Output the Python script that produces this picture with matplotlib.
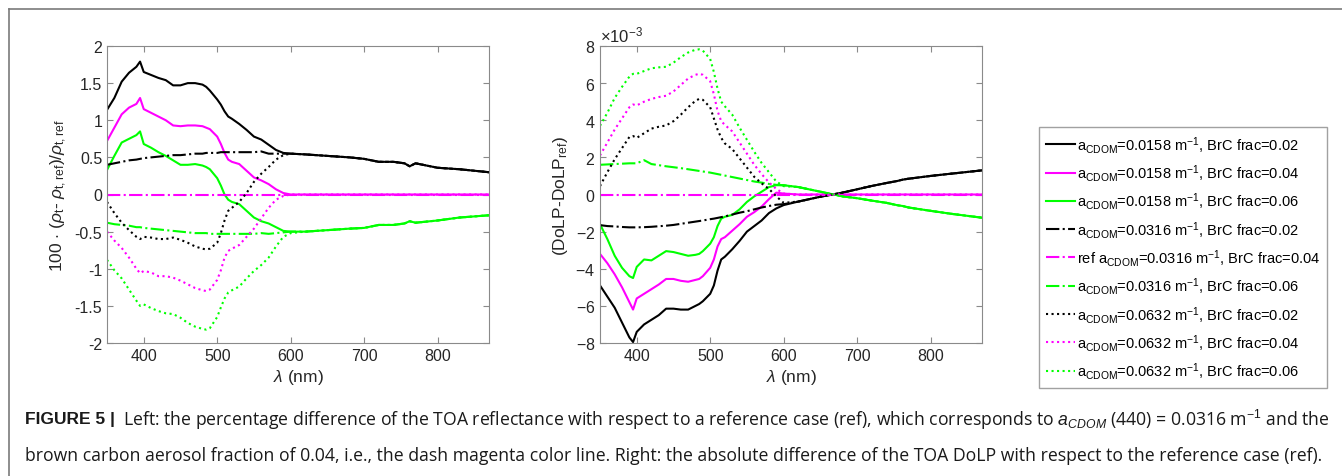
import matplotlib
matplotlib.use('Agg')
import matplotlib.pyplot as plt
import numpy as np
from matplotlib.lines import Line2D
from matplotlib.ticker import ScalarFormatter

plt.rcParams['font.family'] = ['Liberation Sans', 'DejaVu Sans']
plt.rcParams['mathtext.fontset'] = 'custom'
plt.rcParams['mathtext.rm'] = 'Liberation Sans'
plt.rcParams['mathtext.it'] = 'Liberation Sans:italic'
plt.rcParams['axes.unicode_minus'] = False

# wavelengths (nm): blue/green part where the curves differ, red part where they merge
wl_short = [350, 360, 370, 380, 390, 395, 400, 410, 420, 430, 440, 450, 460, 470, 480,
            485, 490, 500, 505, 510, 515, 520, 530, 540, 550, 560, 570, 580, 590, 600]
wl_long = [620, 650, 680, 700, 720, 740, 755, 762, 770, 800, 830, 870]

# ---- left panel: 100*(rho_t - rho_t,ref)/rho_t,ref ----
refl_k_solid = [1.14, 1.30, 1.52, 1.64, 1.72, 1.79, 1.65, 1.61, 1.57, 1.54, 1.47, 1.47, 1.50, 1.50, 1.48,
                1.45, 1.40, 1.28, 1.21, 1.12, 1.05, 1.02, 0.95, 0.87, 0.78, 0.74, 0.67, 0.60, 0.56, 0.55]
refl_m_solid = [0.72, 0.90, 1.08, 1.17, 1.22, 1.30, 1.15, 1.10, 1.05, 1.00, 0.93, 0.92, 0.93, 0.93, 0.92,
                0.90, 0.88, 0.78, 0.68, 0.56, 0.47, 0.44, 0.41, 0.32, 0.23, 0.19, 0.14, 0.07, 0.02, 0.0]
refl_g_solid = [0.33, 0.52, 0.70, 0.75, 0.80, 0.85, 0.68, 0.63, 0.57, 0.52, 0.46, 0.40, 0.40, 0.41, 0.39,
                0.37, 0.34, 0.22, 0.12, 0.0, -0.07, -0.10, -0.13, -0.22, -0.31, -0.36, -0.39, -0.44, -0.49, -0.50]
refl_k_dashdot = [0.40, 0.42, 0.44, 0.46, 0.47, 0.48, 0.49, 0.50, 0.51, 0.52, 0.53, 0.53, 0.54, 0.55, 0.55,
                  0.56, 0.56, 0.56, 0.57, 0.57, 0.57, 0.57, 0.57, 0.57, 0.57, 0.58, 0.55, 0.55, 0.55, 0.55]
refl_m_dashdot = [0.0] * 30
refl_g_dashdot = [-0.38, -0.40, -0.41, -0.42, -0.44, -0.44, -0.45, -0.46, -0.47, -0.48, -0.49, -0.50, -0.51, -0.52, -0.52,
                  -0.52, -0.53, -0.53, -0.53, -0.53, -0.53, -0.53, -0.53, -0.53, -0.53, -0.52, -0.53, -0.52, -0.51, -0.50]
refl_k_dot = [-0.10, -0.25, -0.38, -0.48, -0.57, -0.60, -0.57, -0.58, -0.60, -0.60, -0.58, -0.61, -0.65, -0.70, -0.73,
              -0.74, -0.73, -0.65, -0.52, -0.35, -0.22, -0.18, -0.10, 0.02, 0.17, 0.28, 0.37, 0.47, 0.53, 0.55]
refl_m_dot = [-0.50, -0.62, -0.72, -0.85, -1.00, -1.06, -1.03, -1.05, -1.10, -1.10, -1.12, -1.16, -1.21, -1.26, -1.29,
              -1.30, -1.28, -1.15, -1.02, -0.85, -0.76, -0.73, -0.68, -0.57, -0.46, -0.32, -0.18, -0.07, -0.02, 0.0]
refl_g_dot = [-0.88, -1.02, -1.13, -1.28, -1.43, -1.50, -1.48, -1.53, -1.57, -1.60, -1.61, -1.66, -1.73, -1.78, -1.81,
              -1.82, -1.80, -1.65, -1.52, -1.40, -1.32, -1.29, -1.24, -1.13, -1.03, -0.95, -0.85, -0.70, -0.57, -0.52]
refl_k_tail = [0.54, 0.52, 0.50, 0.48, 0.44, 0.44, 0.42, 0.38, 0.42, 0.36, 0.34, 0.30]
refl_m_tail = [0.0] * 12
refl_g_tail = [-0.50, -0.48, -0.46, -0.45, -0.41, -0.41, -0.39, -0.36, -0.38, -0.35, -0.31, -0.28]

# ---- right panel: DoLP - DoLP_ref (units of 1e-3) ----
dolp_k_solid = [-4.9, -5.5, -6.1, -6.9, -7.7, -7.95, -7.4, -7.0, -6.75, -6.5, -6.15, -6.15, -6.2, -6.2, -6.0,
                -5.9, -5.75, -5.35, -4.9, -4.1, -3.5, -3.35, -2.95, -2.5, -2.0, -1.7, -1.4, -1.0, -0.75, -0.57]
dolp_m_solid = [-3.2, -3.7, -4.3, -5.0, -5.8, -6.2, -5.6, -5.35, -5.1, -4.85, -4.55, -4.55, -4.65, -4.7, -4.6,
                -4.55, -4.4, -3.95, -3.5, -2.8, -2.4, -2.3, -1.95, -1.6, -1.2, -0.95, -0.65, -0.25, 0.1, 0.05]
dolp_g_solid = [-1.6, -2.4, -3.3, -3.95, -4.4, -4.5, -3.9, -3.5, -3.55, -3.3, -3.05, -3.1, -3.2, -3.3, -3.25,
                -3.2, -3.05, -2.65, -2.3, -1.7, -1.3, -1.2, -1.1, -0.8, -0.4, -0.1, 0.15, 0.4, 0.5, 0.5]
dolp_k_dashdot = [-1.65, -1.70, -1.72, -1.75, -1.77, -1.77, -1.77, -1.76, -1.74, -1.71, -1.68, -1.64, -1.58, -1.52, -1.46,
                  -1.43, -1.40, -1.33, -1.30, -1.26, -1.22, -1.18, -1.08, -0.98, -0.90, -0.80, -0.70, -0.62, -0.55, -0.52]
dolp_m_dashdot = [0.0] * 30
dolp_g_dashdot = [1.60, 1.62, 1.64, 1.66, 1.68, 1.68, 1.68, 1.85, 1.64, 1.58, 1.52, 1.47, 1.42, 1.36, 1.30,
                  1.27, 1.24, 1.18, 1.14, 1.10, 1.06, 1.02, 0.94, 0.86, 0.78, 0.70, 0.64, 0.57, 0.52, 0.50]
dolp_k_dot = [0.45, 1.2, 1.9, 2.5, 3.1, 3.15, 3.05, 3.3, 3.55, 3.65, 3.72, 3.95, 4.3, 4.7, 5.05,
              5.15, 5.1, 4.7, 4.1, 3.5, 3.05, 2.75, 2.45, 1.95, 1.45, 0.95, 0.6, 0.3, -0.1, -0.45]
dolp_m_dot = [2.1, 2.8, 3.5, 4.1, 4.7, 4.85, 4.8, 5.0, 5.15, 5.25, 5.32, 5.55, 5.9, 6.25, 6.45,
              6.5, 6.45, 6.1, 5.4, 4.5, 3.95, 3.75, 3.4, 2.8, 2.2, 1.6, 1.1, 0.65, 0.3, 0.05]
dolp_g_dot = [3.7, 4.4, 5.2, 5.8, 6.35, 6.5, 6.5, 6.65, 6.8, 6.85, 6.88, 7.1, 7.4, 7.65, 7.8,
              7.82, 7.75, 7.3, 6.6, 5.7, 5.0, 4.75, 4.3, 3.6, 2.95, 2.3, 1.7, 1.2, 0.7, 0.45]
dolp_k_tail = [-0.38, -0.12, 0.10, 0.28, 0.46, 0.62, 0.73, 0.80, 0.85, 1.00, 1.13, 1.30]
dolp_m_tail = [0.0] * 12
dolp_g_tail = [0.40, 0.15, -0.10, -0.20, -0.33, -0.45, -0.58, -0.62, -0.70, -0.88, -1.05, -1.25]

labels = [r'a$_{\rm CDOM}$=0.0158 m$^{-1}$, BrC frac=0.02',
          r'a$_{\rm CDOM}$=0.0158 m$^{-1}$, BrC frac=0.04',
          r'a$_{\rm CDOM}$=0.0158 m$^{-1}$, BrC frac=0.06',
          r'a$_{\rm CDOM}$=0.0316 m$^{-1}$, BrC frac=0.02',
          r'ref a$_{\rm CDOM}$=0.0316 m$^{-1}$, BrC frac=0.04',
          r'a$_{\rm CDOM}$=0.0316 m$^{-1}$, BrC frac=0.06',
          r'a$_{\rm CDOM}$=0.0632 m$^{-1}$, BrC frac=0.02',
          r'a$_{\rm CDOM}$=0.0632 m$^{-1}$, BrC frac=0.04',
          r'a$_{\rm CDOM}$=0.0632 m$^{-1}$, BrC frac=0.06']

K, M, G = 'k', '#ff00ff', '#00ff00'
styles = [(K, '-'), (M, '-'), (G, '-'), (K, '-.'), (M, '-.'), (G, '-.'), (K, ':'), (M, ':'), (G, ':')]

left_curves = [refl_k_solid, refl_m_solid, refl_g_solid, refl_k_dashdot, refl_m_dashdot, refl_g_dashdot,
               refl_k_dot, refl_m_dot, refl_g_dot]
right_curves = [dolp_k_solid, dolp_m_solid, dolp_g_solid, dolp_k_dashdot, dolp_m_dashdot, dolp_g_dashdot,
                dolp_k_dot, dolp_m_dot, dolp_g_dot]
left_tails = {K: refl_k_tail, M: refl_m_tail, G: refl_g_tail}
right_tails = {K: dolp_k_tail, M: dolp_m_tail, G: dolp_g_tail}

W, H = 1342, 477
fig = plt.figure(figsize=(W / 100, H / 100), dpi=100)

def px_axes(x0, y0, x1, y1):
    return fig.add_axes([x0 / W, 1 - y1 / H, (x1 - x0) / W, (y1 - y0) / H])

ax1 = px_axes(107, 47, 489, 344)
ax2 = px_axes(600, 47, 982, 344)

wl = np.array(wl_short + wl_long)
handles = []
for (c, ls), yl, yr in zip(styles, left_curves, right_curves):
    ax1.plot(wl, np.array(yl + left_tails[c]), color=c, ls=ls, lw=1.5)
    h, = ax2.plot(wl, np.array(yr + right_tails[c]) * 1e-3, color=c, ls=ls, lw=1.5)
    handles.append(h)

spine_c = '#8a8a8a'
for ax in (ax1, ax2):
    ax.set_xlim(350, 870)
    ax.set_xticks([400, 500, 600, 700, 800])
    ax.tick_params(direction='in', length=4, top=True, right=True, labelsize=11.5,
                   color=spine_c, labelcolor='#262626')
    for s in ax.spines.values():
        s.set_color(spine_c)
    ax.set_xlabel(r'$\lambda$ (nm)', fontsize=12.5, color='#262626', labelpad=3)

ax1.set_ylim(-2, 2)
ax1.set_yticks([-2, -1.5, -1, -0.5, 0, 0.5, 1, 1.5, 2])
ax1.set_yticklabels(['-2', '-1.5', '-1', '-0.5', '0', '0.5', '1', '1.5', '2'])
ax1.set_ylabel(r'100 $\cdot$ ($\rho_{\rm t}$- $\rho_{\rm t,ref}$)/$\rho_{\rm t,ref}$',
               fontsize=12.5, color='#262626', labelpad=4)

ax2.set_ylim(-8e-3, 8e-3)
ax2.set_yticks(np.arange(-8, 9, 2) * 1e-3)
fmt = ScalarFormatter(useMathText=True)
fmt.set_powerlimits((-2, 2))
ax2.yaxis.set_major_formatter(fmt)
ax2.yaxis.get_offset_text().set_fontsize(12)
ax2.set_ylabel(r'(DoLP-DoLP$_{\rm ref}$)', fontsize=12.5, color='#262626', labelpad=4)

leg = fig.legend(handles, labels, loc='center left', bbox_to_anchor=(1039 / W, 1 - 258.5 / H),
                 fontsize=10.5, frameon=True, fancybox=False, edgecolor=spine_c,
                 handlelength=2.0, handletextpad=0.15, labelspacing=0.5, borderpad=0.45,
                 borderaxespad=0)
leg.get_frame().set_linewidth(1.0)

# page frame
fig.add_artist(Line2D([9 / W, 9 / W], [0, 1 - 10 / H], transform=fig.transFigure, color='#7a7a7a', lw=1.2))
fig.add_artist(Line2D([9 / W, 1], [1 - 10 / H, 1 - 10 / H], transform=fig.transFigure, color='#7a7a7a', lw=1.2))

# caption
cap1 = (r'Left: the percentage difference of the TOA reflectance with respect to a reference case (ref), '
        r'which corresponds to $a_{CDOM}$ (440) = 0.0316 m$^{-1}$ and the')
cap2 = ('brown carbon aerosol fraction of 0.04, i.e., the dash magenta color line. Right: the absolute '
        'difference of the TOA DoLP with respect to the reference case (ref).')
cap_font = ['Open Sans', 'DejaVu Sans']
t0 = fig.text(25 / W, 1 - 420 / H, 'FIGURE 5 |', fontsize=12.5, fontweight='bold', va='center',
              color='#1a1a1a', family=['Liberation Sans'])
t1 = fig.text(123 / W, 1 - 420 / H, cap1, fontsize=11, va='center', color='#1a1a1a', family=cap_font)
t2 = fig.text(25 / W, 1 - 456 / H, cap2, fontsize=11, va='center', color='#1a1a1a', family=cap_font)

# fit caption size to the width it takes in the figure (line 2 runs to ~1322 px)
r = fig.canvas.get_renderer()
w2 = t2.get_window_extent(r).width
fs = 11 * (1322 - 25) / w2
t1.set_fontsize(fs)
t2.set_fontsize(fs)

fig.savefig('out.png', dpi=100)
